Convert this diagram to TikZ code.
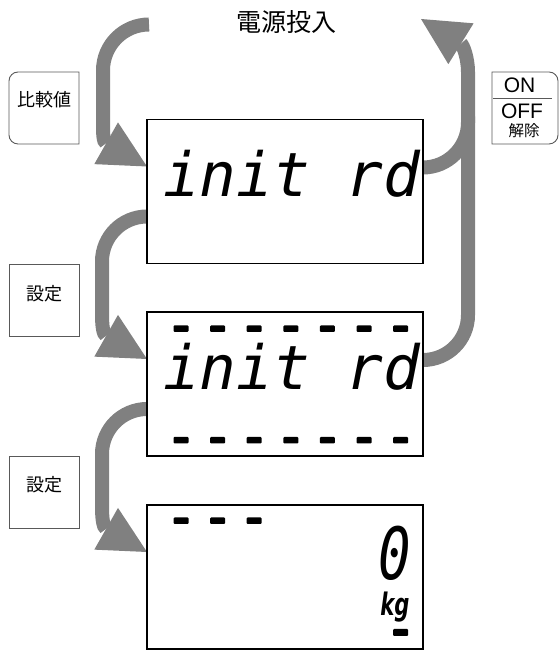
\documentclass[tikz,border=0pt]{standalone}
\usepackage{fontspec}
\usepackage{tikz}
\usetikzlibrary{arrows.meta, calc, backgrounds}

\newfontfamily\jpfont{Noto Sans CJK JP}
\newfontfamily\lcdfont{DejaVu Sans Mono}
\newfontfamily\lcdnarrow{DejaVu Sans Mono}[FakeStretch=0.75]
\newfontfamily\unitfont{DejaVu Sans}[FakeStretch=0.68]
\newfontfamily\onofffont{Liberation Sans}
\definecolor{flowgray}{RGB}{128,128,128}

\begin{document}
\begin{tikzpicture}[
    x=1pt, y=1pt,
    % Styles
    display/.style={
        rectangle,
        draw=black,
        line width=1.6pt,
        minimum width=276pt,
        minimum height=144pt,
        inner sep=0pt,
        outer sep=0pt
    },
    keybox/.style={
        rectangle,
        minimum width=70pt,
        minimum height=72pt,
        inner sep=0pt,
        outer sep=0pt
    },
    keyline/.style={
        draw=black!65,
        line width=0.9pt
    },
    keytext/.style={
        inner sep=0pt,
        font=\jpfont\fontsize{18}{18}\selectfont
    },
    lcd/.style={
        anchor=base west,
        inner sep=0pt,
        font=\lcdfont\itshape\fontsize{61}{61}\selectfont
    },
    seg/.style={
        fill=black,
        rounded corners=1pt
    },
    flow/.style={
        draw=flowgray,
        line width=14pt,
        -{Triangle[length=47pt, width=48pt, line width=0pt]}
    },
    flowline/.style={
        draw=flowgray,
        line width=14pt
    }
]
\useasboundingbox (0,0) rectangle (559,650);

% Displays
\node[display] (display1) at (285, 458.5) {};
\node[display] (display2) at (285, 266) {};
\node[display] (display3) at (285, 73) {};

\node[lcd] (msg1) at ([xshift=16pt, yshift=-77.5pt]display1.north west) {init rd};
\node[lcd] (msg2) at ([xshift=16pt, yshift=-77.5pt]display2.north west) {init rd};
\node[anchor=north, inner sep=0pt, align=center, font=\fontsize{72}{35.5}\selectfont] (weight) at (395, 124)
    {{\lcdnarrow\itshape 0}\\{\unitfont\bfseries\itshape\fontsize{31}{35.5}\selectfont kg}};

% LCD segments
\foreach \i in {0,...,6} {
    \fill[seg] ($(display2.north west)+(26.5+36.6*\i, -13.5)$) rectangle ++(15,-6.5);
    \fill[seg] ($(display2.north west)+(26.5+36.6*\i, -125)$) rectangle ++(15,-6.5);
}
\foreach \i in {0,1,2} {
    \fill[seg] ($(display3.north west)+(26.5+36.6*\i, -12.5)$) rectangle ++(15,-6.5);
}
\fill[seg] ($(display3.north west)+(246, -124)$) rectangle ++(15,-7);

% Keys
\node[keybox] (cmpkey) at (44, 542) {};
\node[keybox, keyline] (setkeyA) at (44, 349.5) {};
\node[keybox, keyline] (setkeyB) at (44, 157.5) {};
\node[keybox, minimum width=66pt] (offkey) at (525, 542) {};

\draw[keyline] (cmpkey.north east) -- ([xshift=9pt]cmpkey.north west)
    arc[start angle=90, end angle=180, radius=9pt] -- ([yshift=9pt]cmpkey.south west)
    arc[start angle=180, end angle=270, radius=9pt] -- (cmpkey.south east) -- cycle;
\draw[keyline] (offkey.north west) -- ([xshift=-9pt]offkey.north east)
    arc[start angle=90, end angle=0, radius=9pt] -- ([yshift=9pt]offkey.south east)
    arc[start angle=0, end angle=-90, radius=9pt] -- (offkey.south west) -- cycle;

\node[keytext] (cmplabel) at ([yshift=8pt]cmpkey.center) {比較値};
\node[keytext] (setlabelA) at ([yshift=7pt]setkeyA.center) {設定};
\node[keytext] (setlabelB) at ([yshift=7.5pt]setkeyB.center) {設定};
\node[inner sep=0pt, font=\onofffont\fontsize{21}{21}\selectfont] (onlabel) at (519.5, 565) {ON};
\node[inner sep=0pt, font=\onofffont\fontsize{21}{21}\selectfont] (offlabel) at (522, 539) {OFF};
\node[keytext, font=\jpfont\fontsize{15.5}{15.5}\selectfont] (clearlabel) at (524, 519.5) {解除};
\draw[keyline, line width=1pt] ([xshift=1pt]offkey.west |- 0,551) -- (552, 551);

% Power on
\node[inner sep=0pt, font=\jpfont\fontsize{25}{25}\selectfont] (poweron) at (286.5, 627.5) {電源投入};
\coordinate (powerstart) at (149, 625.5);
\coordinate (offend) at (421, 631);

% Flow arrows
\begin{scope}[on background layer]
\draw[flow] (powerstart) arc[start angle=90, end angle=180, radius=46pt] -- ++(0,-51pt)
    .. controls +(0,-12pt) and +(-44pt,25pt) .. ([yshift=25pt]display1.west);
\draw[flow] ([yshift=-25pt]display1.west) arc[start angle=90, end angle=180, radius=45pt] -- ++(0,-52pt)
    .. controls +(0,-12pt) and +(-44pt,25pt) .. ([yshift=25pt]display2.west);
\draw[flow] ([yshift=-25pt]display2.west) arc[start angle=90, end angle=180, radius=45pt] -- ++(0,-52pt)
    .. controls +(0,-12pt) and +(-44pt,25pt) .. ([yshift=25pt]display3.west);
\draw[flow] ([yshift=24pt]display2.east) arc[start angle=-90, end angle=0, radius=45pt] -- ++(0,243pt)
    .. controls +(0,14pt) and +(42pt,-26pt) .. (offend);
\draw[flowline] ([yshift=24pt]display1.east) arc[start angle=-90, end angle=0, radius=45pt] -- ++(0,6pt);
\end{scope}

\end{tikzpicture}
\end{document}
